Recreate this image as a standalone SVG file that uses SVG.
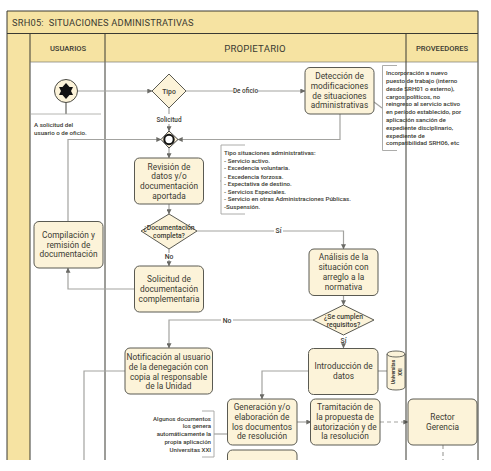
<svg xmlns="http://www.w3.org/2000/svg" width="491" height="471" viewBox="0 0 491 471">
<style>
text{font-family:"Roboto","Liberation Sans",sans-serif;fill:#3a3a32;text-anchor:middle}
.band{fill:#f6e3a2;stroke:none}
.lane{fill:none;stroke:#3a3a32;stroke-width:1}
.box rect{fill:#fcf3d9;stroke:#5a5a52;stroke-width:1}
.box text{font-size:8.300px;font-weight:400;letter-spacing:.05px}
.dia polygon{fill:#fcf3d9;stroke:#5a5a52;stroke-width:1}
.dia text{font-size:6.800px;font-weight:500}
.c{fill:none;stroke:#a3a3a0;stroke-width:1.200}
.a{marker-end:url(#arr)}
.d{stroke-dasharray:4 3}
.lab{font-size:6.400px;font-weight:500}
.note{font-size:6.200px;font-weight:500;text-anchor:start}
.br{fill:none;stroke:#a3a3a0;stroke-width:.9}
</style>
<defs>
<marker id="arr" viewBox="0 0 6 6" refX="5.600" refY="3" markerWidth="5" markerHeight="5" markerUnits="userSpaceOnUse" orient="auto"><path d="M0 0L6 3L0 6Z" fill="#6a6a66"/></marker>
<clipPath id="page"><rect x="0" y="0" width="491" height="460"/></clipPath>
</defs>
<rect width="491" height="471" fill="#fff"/>
<g id="pool" clip-path="url(#page)">
<rect class="band" x="7" y="11" width="471" height="23"/>
<rect class="band" x="7" y="34" width="23" height="430"/>
<rect class="band" x="30" y="34" width="448" height="28"/>
<path class="lane" d="M7 11H478V464M7 11V464"/>
<path class="lane" d="M7 33.500H478"/>
<path class="lane" d="M30 34V464M105 34V464"/>
<path class="lane" d="M30 62H478" style="stroke:#7a7a70;stroke-width:.7"/>
<text x="12" y="25.500" style="text-anchor:start;font-size:9.300px;font-weight:400;letter-spacing:.2px">SRH05:&#160; SITUACIONES ADMINISTRATIVAS</text>
<text x="68" y="51" style="font-size:7.600px;font-weight:500">USUARIOS</text>
<text x="255" y="51.500" style="font-size:9.600px;font-weight:400;letter-spacing:.2px">PROPIETARIO</text>
<text x="442" y="51" style="font-size:7.600px;font-weight:500">PROVEEDORES</text>
</g>
<g id="connectors" clip-path="url(#page)">
<path class="c a" d="M77 91H152"/>
<path class="c" d="M66 102V114" style="stroke-width:1.600;stroke:#8a8a86"/>
<path class="c" d="M31 114H101" style="stroke-width:.8"/>
<path class="c a" d="M186 91H305"/>
<path class="c" d="M169 108V116"/>
<path class="c a" d="M169 124V131"/>
<path class="c a" d="M340 114V139.500H178"/>
<path class="c a" d="M68 221V139.500H161"/>
<path class="c a" d="M169 148V158"/>
<path class="c a" d="M169 204V214"/>
<path class="c a" d="M197 231H343.500V249"/>
<path class="c" d="M169 249V253"/>
<path class="c a" d="M169 260V266"/>
<path class="c a" d="M134 289H68V268"/>
<path class="c a" d="M343.500 296V305"/>
<path class="c a" d="M313 320H169V348"/>
<path class="c a" d="M343.500 344V348"/>
<path class="c" d="M378 371H387"/>
<path class="c a" d="M309 371H262V399"/>
<path class="c a" d="M297 422H311"/>
<path class="c a d" d="M380 422H408"/>
<path class="c d" d="M443 445V464"/>
<path class="c" d="M125 371H84V464"/>
<path class="c" d="M214 434H227"/>
<path class="c" d="M374 102L382 108"/>
<path class="c" d="M220 181H221"/>
</g>
<g id="labels">
<rect x="156" y="114" width="26" height="10" fill="#fff"/>
<text class="lab" x="169" y="121.500">Solicitud</text>
<rect x="233" y="87" width="25" height="8" fill="#fff"/>
<text class="lab" x="245.500" y="93">De oficio</text>
<rect x="274" y="227" width="9" height="8" fill="#fff"/>
<text class="lab" x="278.500" y="233" style="font-size:6.800px">Sí</text>
<text class="lab" x="169" y="259" style="font-size:6.800px">No</text>
<rect x="221" y="316" width="12" height="8" fill="#fff"/>
<text class="lab" x="227" y="322.500" style="font-size:6.800px">No</text>
<text class="lab" x="343.500" y="343" style="font-size:6.800px">Sí</text>
</g>
<g id="start">
<circle cx="66" cy="91" r="11.500" fill="#fcf3d9" stroke="#4a4a44" stroke-width="1"/>
<path d="M66 83L69.500 87H73L71 91L73 95H69.500L66 99L62.500 95H59L61 91L59 87H62.500Z" fill="#111"/>
</g>
<g id="start-note"><text class="note" x="34" y="126.500">A solicitud del</text><text class="note" x="34" y="135">usuario o de oficio.</text></g>
<g id="tipo" class="dia"><polygon points="169,74 186,91 169,108 152,91"/><text x="169" y="93.500">Tipo</text></g>
<g id="merge"><polygon points="169,131 178,139.500 169,148 161,139.500" fill="#fcf3d9" stroke="#444" stroke-width="1"/><circle cx="169" cy="139.500" r="4.700" fill="#fff" stroke="#111" stroke-width="2"/></g>
<g id="deteccion" class="box"><rect x="305" y="67.500" width="69" height="46.500" rx="5"/><text x="339.500" y="79">Detección de</text><text x="339.500" y="88.800">modificaciones</text><text x="339.500" y="98.600">de situaciones</text><text x="339.500" y="108.400">administrativas</text></g>
<g id="nota-incorporacion">
<path class="br" d="M397 65.500H382.500V150.500H397"/>
<text class="note" x="386" y="75.200">Incorporación a nuevo</text><text class="note" x="386" y="83">puesto de trabajo (interno</text><text class="note" x="386" y="90.800">desde SRH01 o externo),</text><text class="note" x="386" y="98.600">cargos políticos, no</text><text class="note" x="386" y="106.400">reingreso al servicio activo</text><text class="note" x="386" y="114.200">en período establecido, por</text><text class="note" x="386" y="122">aplicación sanción de</text><text class="note" x="386" y="129.800">expediente disciplinario,</text><text class="note" x="386" y="137.600">expediente de</text><text class="note" x="386" y="145.400">compatibilidad SRH06, etc</text>
</g>
<g id="revision" class="box"><rect x="134.500" y="158" width="69" height="46" rx="5"/><text x="169" y="169.500">Revisión de</text><text x="169" y="179.300">datos y/o</text><text x="169" y="189.100">documentación</text><text x="169" y="198.900">aportada</text></g>
<g id="nota-tipo">
<path class="br" d="M245 145H221V214H245"/>
<text class="note" x="224" y="155">Tipo situaciones administrativas:</text><text class="note" x="224" y="162.700">- Servicio activo.</text><text class="note" x="224" y="170.400">- Excedencia voluntaria.</text><text class="note" x="224" y="178.600">- Excedencia forzosa.</text><text class="note" x="224" y="186">- Expectativa de destino.</text><text class="note" x="224" y="193.700">- Servicios Especiales.</text><text class="note" x="224" y="201.400">- Servicio en otras Administraciones Públicas.</text><text class="note" x="224" y="209">-Suspensión.</text>
</g>
<g id="documentacion" class="dia"><polygon points="169,214 197,231 169,249 141,231"/><text x="169" y="229.500">¿Documentación</text><text x="169" y="237.500">completa?</text></g>
<g id="compilacion" class="box"><rect x="34" y="221.500" width="69" height="46.500" rx="5"/><text x="68.500" y="237.500">Compilación y</text><text x="68.500" y="247.500">remisión de</text><text x="68.500" y="257">documentación</text></g>
<g id="solicitud" class="box"><rect x="134.500" y="266" width="69" height="46" rx="5"/><text x="169" y="282">Solicitud de</text><text x="169" y="291.800">documentación</text><text x="169" y="301.600">complementaria</text></g>
<g id="analisis" class="box"><rect x="309" y="249" width="69" height="46.500" rx="5"/><text x="343.500" y="260">Análisis de la</text><text x="343.500" y="270">situación con</text><text x="343.500" y="279.800">arreglo a la</text><text x="343.500" y="289.600">normativa</text></g>
<g id="requisitos" class="dia"><polygon points="343.500,305 374,320 343.500,335 313,320"/><text x="343.500" y="319">¿Se cumplen</text><text x="343.500" y="326.500">requisitos?</text></g>
<g id="notificacion" class="box"><rect x="125" y="348" width="87.500" height="46" rx="5"/><text x="168.500" y="360">Notificación al usuario</text><text x="168.500" y="369.800">de la denegación con</text><text x="168.500" y="379.600">copia al responsable</text><text x="168.500" y="389.400">de la Unidad</text></g>
<g id="introduccion" class="box"><rect x="308.500" y="348.500" width="69.500" height="46" rx="5"/><text x="343.500" y="369">Introducción de</text><text x="343.500" y="379">datos</text></g>
<g id="universitas">
<path d="M387 354V387C387 391 405 391 405 387V354C405 350 387 350 387 354C387 358 405 358 405 354" fill="#fcf3d9" stroke="#5a5a52" stroke-width=".9"/>
<text transform="translate(395 372) rotate(-90)" style="font-size:4.800px;font-weight:700">Universitas</text><text transform="translate(402 372) rotate(-90)" style="font-size:4.800px;font-weight:700">XXI</text>
</g>
<path d="M406 34V464" class="lane" clip-path="url(#page)"/>
<g id="nota-algunos">
<path class="br" d="M202 411H214V457H202"/>
<g style="font-size:6.100px;font-weight:500"><text x="211" y="420.500" style="text-anchor:end">Algunos documentos</text><text x="211" y="428" style="text-anchor:end">los genera</text><text x="211" y="436" style="text-anchor:end">automáticamente la</text><text x="211" y="443.500" style="text-anchor:end">propia aplicación</text><text x="211" y="451.500" style="text-anchor:end">Universitas XXI</text></g>
</g>
<g id="generacion" class="box"><rect x="227.500" y="399" width="69.500" height="46" rx="5"/><text x="262" y="410">Generación y/o</text><text x="262" y="419.800">elaboración de</text><text x="262" y="429.600">los documentos</text><text x="262" y="439.400">de resolución</text></g>
<g id="tramitacion" class="box"><rect x="310.500" y="399" width="69.500" height="46" rx="5"/><text x="345" y="410">Tramitación de</text><text x="345" y="419.800">la propuesta de</text><text x="345" y="429.600">autorización y de</text><text x="345" y="439.400">la resolución</text></g>
<g id="rector" class="box"><rect x="408" y="399" width="69" height="46" rx="5"/><text x="442.500" y="419.800">Rector</text><text x="442.500" y="429.600">Gerencia</text></g>
<g id="siguiente" class="box" clip-path="url(#page)"><rect x="227.500" y="450" width="69.500" height="30" rx="5"/></g>
</svg>
